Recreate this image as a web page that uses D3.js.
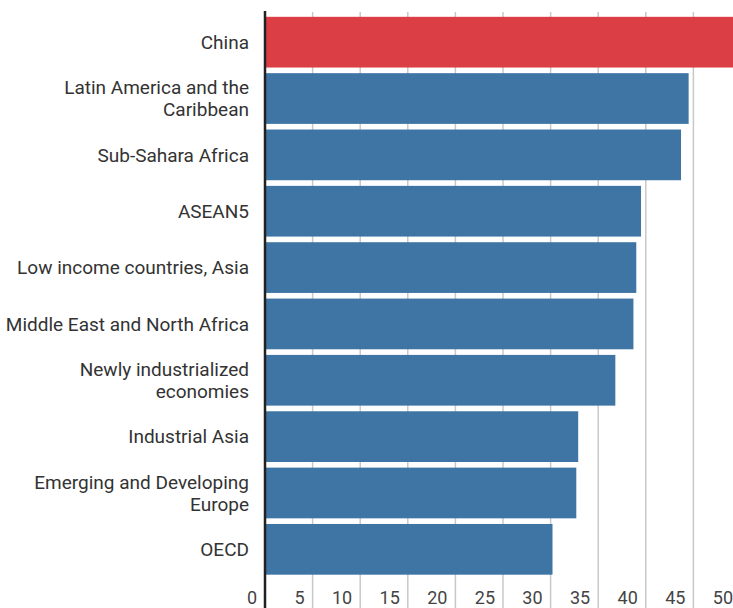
<!DOCTYPE html>
<html>
<head>
<meta charset="utf-8">
<script src="https://cdn.jsdelivr.net/npm/d3@7"></script>
<style>
  html, body { margin: 0; padding: 0; background: #fff; }
  svg { display: block; font-family: Roboto, "Open Sans", sans-serif; }
</style>
</head>
<body>
<svg id="chart" width="733" height="608"></svg>
<script>
const categories = [
  "China",
  "Latin America and the Caribbean",
  "Sub-Sahara Africa",
  "ASEAN5",
  "Low income countries, Asia",
  "Middle East and North Africa",
  "Newly industrialized economies",
  "Industrial Asia",
  "Emerging and Developing Europe",
  "OECD"
];
const values = [51.5, 44.5, 43.7, 39.5, 39.0, 38.7, 36.8, 32.9, 32.7, 30.2];
const highlight = ["China"];
const tickValues = [0, 5, 10, 15, 20, 25, 30, 35, 40, 45, 50];

const W = 733, H = 608;
const svg = d3.select("#chart");

const x = d3.scaleLinear().domain([0, 50]).range([265, 741]);
const y = d3.scaleBand().domain(categories).range([14, 577.5])
  .paddingInner(0.1).paddingOuter(0.05);

const gridTop = 12;

// gridlines (extend to bottom through tick labels)
svg.append("g").selectAll("line")
  .data(tickValues.filter(d => d > 0))
  .join("line")
  .attr("x1", d => x(d)).attr("x2", d => x(d))
  .attr("y1", gridTop).attr("y2", H)
  .attr("stroke", "#c8c8c8").attr("stroke-width", 1.5);

// bars
svg.append("g").selectAll("rect")
  .data(categories.map((c, i) => ({ c, v: values[i] })))
  .join("rect")
  .attr("x", x(0) + 1)
  .attr("y", d => y(d.c))
  .attr("width", d => x(d.v) - x(0) - 1)
  .attr("height", y.bandwidth())
  .attr("fill", d => highlight.includes(d.c) ? "#db3e44" : "#3e75a4");

// axis line
svg.append("line")
  .attr("x1", x(0)).attr("x2", x(0))
  .attr("y1", gridTop - 1).attr("y2", H)
  .attr("stroke", "#222").attr("stroke-width", 2.5);

// tick labels (right aligned, left of each gridline)
svg.append("g").selectAll("text")
  .data(tickValues)
  .join("text")
  .attr("x", d => x(d) - 8)
  .attr("y", 598)
  .attr("dy", "0.35em")
  .attr("text-anchor", "end")
  .attr("font-size", 18)
  .attr("fill", "#444")
  .text(d => d);

// category labels, wrapped
const maxW = 250;
const labels = svg.append("g").selectAll("text")
  .data(categories)
  .join("text")
  .attr("text-anchor", "end")
  .attr("font-size", 19)
  .attr("fill", "#333");

labels.each(function(d) {
  const t = d3.select(this);
  const words = d.split(" ");
  const lines = [];
  let line = [];
  const probe = t.append("tspan");
  words.forEach(w => {
    const test = line.concat(w).join(" ");
    probe.text(test);
    if (probe.node().getComputedTextLength() > maxW && line.length) {
      lines.push(line.join(" "));
      line = [w];
    } else {
      line.push(w);
    }
  });
  lines.push(line.join(" "));
  probe.remove();
  const lh = 22;
  const cy = y(d) + y.bandwidth() / 2;
  const y0 = cy - (lines.length - 1) * lh / 2;
  lines.forEach((l, i) => {
    t.append("tspan")
      .attr("x", 249)
      .attr("y", y0 + i * lh)
      .attr("dy", "0.35em")
      .text(l);
  });
});
</script>
</body>
</html>
